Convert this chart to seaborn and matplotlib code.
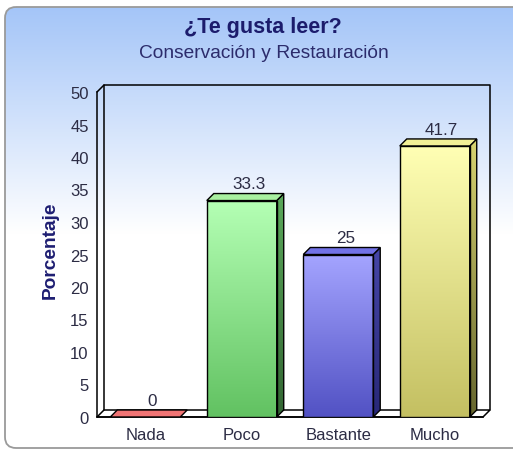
import numpy as np
import matplotlib
matplotlib.use("Agg")
import matplotlib.pyplot as plt
from matplotlib.patches import FancyBboxPatch, Polygon
from matplotlib.colors import to_rgb
import seaborn as sns

# ---- data ----
categories = ["Nada", "Poco", "Bastante", "Mucho"]
values = [0, 33.3, 25, 41.7]
value_labels = ["0", "33.3", "25", "41.7"]
y_ticks = [0, 5, 10, 15, 20, 25, 30, 35, 40, 45, 50]
title = "¿Te gusta leer?"
subtitle = "Conservación y Restauración"
y_label = "Porcentaje"

# ---- styles ----
front_top = ["#ff9a9a", "#b4ffb4", "#a4a4ff", "#ffffb4"]
front_bottom = ["#e06060", "#62c262", "#5252c4", "#c4c062"]
top_face = ["#f07474", "#a8f0a0", "#7272e6", "#f2f096"]
side_top = ["#b04848", "#5aa85a", "#4646a8", "#d8d470"]
side_bottom = ["#703030", "#336633", "#282878", "#66662e"]

sns.set_style("white")
plt.rcParams["font.family"] = ["Liberation Sans", "DejaVu Sans"]

W, H = 513, 452
fig = plt.figure(figsize=(W / 100, H / 100), dpi=100)

# ---- background panel with gradient ----
bg = fig.add_axes([0, 0, 1, 1])
bg.set_xlim(0, W)
bg.set_ylim(H, 0)
bg.axis("off")
panel = FancyBboxPatch((5, 8), 540, 441, boxstyle="round,pad=0,rounding_size=11",
                       fc="none", ec="#9a9a9a", lw=1.3, zorder=3)
bg.add_patch(panel)
top_c = np.array(to_rgb("#a4c5f8"))
ys = np.linspace(8, 449, 441)
t = np.clip((ys - 8) / (235 - 8), 0, 1)[:, None]
grad = top_c * (1 - t) + np.ones(3) * t
img = bg.imshow(grad[:, None, :], extent=(5, 545, 449, 8), aspect="auto", zorder=1)
clip_patch = FancyBboxPatch((5, 8), 540, 441, boxstyle="round,pad=0,rounding_size=11",
                            fc="none", ec="none", transform=bg.transData)
img.set_clip_path(clip_patch)

# ---- main axes ----
ax_left, ax_bottom, ax_w, ax_h = 97, 452 - 418, 386, 325
ax = fig.add_axes([ax_left / W, ax_bottom / H, ax_w / W, ax_h / H])
ax.patch.set_alpha(0)

sns.barplot(x=categories, y=values, hue=categories, palette=front_bottom,
            width=0.725, edgecolor="black", linewidth=1.0, saturation=1,
            legend=False, ax=ax, zorder=3)

ax.set_xlim(-0.5, len(categories) - 0.5)
ax.set_ylim(0, 50)
ax.set_yticks(y_ticks)
ax.set_ylabel(y_label, fontsize=13.8, fontweight="bold", color="#1e1e72")
ax.yaxis.set_label_coords(-0.098, 0.515)
ax.set_xlabel("")

depth_px = 7
dx = depth_px * (len(categories) / ax_w)
dy = depth_px * (50 / ax_h)
x0l, x1r = -0.5, len(categories) - 0.5

# 3D frame: floor, back wall, left wall edges
floor = Polygon([(x0l, 0), (x1r, 0), (x1r + dx, dy), (x0l + dx, dy)],
                closed=True, fc="white", ec="black", lw=1.1, zorder=1, clip_on=False)
ax.add_patch(floor)
ax.plot([x0l + dx, x0l + dx, x1r + dx, x1r + dx], [dy, 50 + dy, 50 + dy, dy],
        color="black", lw=1.1, zorder=1, clip_on=False)
ax.plot([x0l, x0l + dx], [50, 50 + dy], color="black", lw=1.1, zorder=1, clip_on=False)

for sp in ["top", "right"]:
    ax.spines[sp].set_visible(False)
ax.spines["left"].set_linewidth(1.1)
ax.spines["bottom"].set_linewidth(1.1)
ax.spines["left"].set_color("black")
ax.spines["bottom"].set_color("black")
ax.tick_params(axis="both", direction="out", length=4, width=1, color="black",
               labelsize=12, labelcolor="#2c2c44", pad=2)
ax.tick_params(axis="x", pad=3)


def vgrad(c_top, c_bot, n=64):
    a = np.array(to_rgb(c_top))
    b = np.array(to_rgb(c_bot))
    s = np.linspace(0, 1, n)[:, None]
    return (a * (1 - s) + b * s)[:, None, :]


for i, p in enumerate(ax.patches[:len(values)]):
    x0 = p.get_x()
    w = p.get_width()
    h = p.get_height()
    x1 = x0 + w
    if h > 0:
        im = ax.imshow(vgrad(front_top[i], front_bottom[i]), extent=(x0, x1, 0, h),
                       aspect="auto", zorder=3.5, interpolation="bilinear")
        im.set_clip_path(p)
        p.set_zorder(3.6)
        p.set_facecolor("none")
        side = Polygon([(x1, 0), (x1 + dx, dy), (x1 + dx, h + dy), (x1, h)], closed=True,
                       fc="none", ec="black", lw=1.0, zorder=3.6)
        ax.add_patch(side)
        ims = ax.imshow(vgrad(side_top[i], side_bottom[i]), extent=(x1, x1 + dx, 0, h + dy),
                        aspect="auto", zorder=3.5, interpolation="bilinear")
        ims.set_clip_path(side)
    else:
        p.set_visible(False)
    top = Polygon([(x0, h), (x1, h), (x1 + dx, h + dy), (x0 + dx, h + dy)], closed=True,
                  fc=top_face[i], ec="black", lw=1.0, zorder=3.7)
    ax.add_patch(top)
    ax.annotate(value_labels[i], (x0 + w / 2 + dx, h + dy), xytext=(0, 1.5),
                textcoords="offset points", ha="center", va="bottom",
                fontsize=12.3, color="#2c2c44", zorder=5)

ax.set_xlim(-0.5, len(categories) - 0.5)
ax.set_ylim(0, 50)

fig.text(263 / W, 1 - 27 / H, title, ha="center", va="center", fontsize=15.5,
         fontweight="bold", color="#1c1c6c")
fig.text(263.5 / W, 1 - 53 / H, subtitle, ha="center", va="center", fontsize=13.8,
         color="#2c2c6c")

fig.savefig("out.png", dpi=100)
